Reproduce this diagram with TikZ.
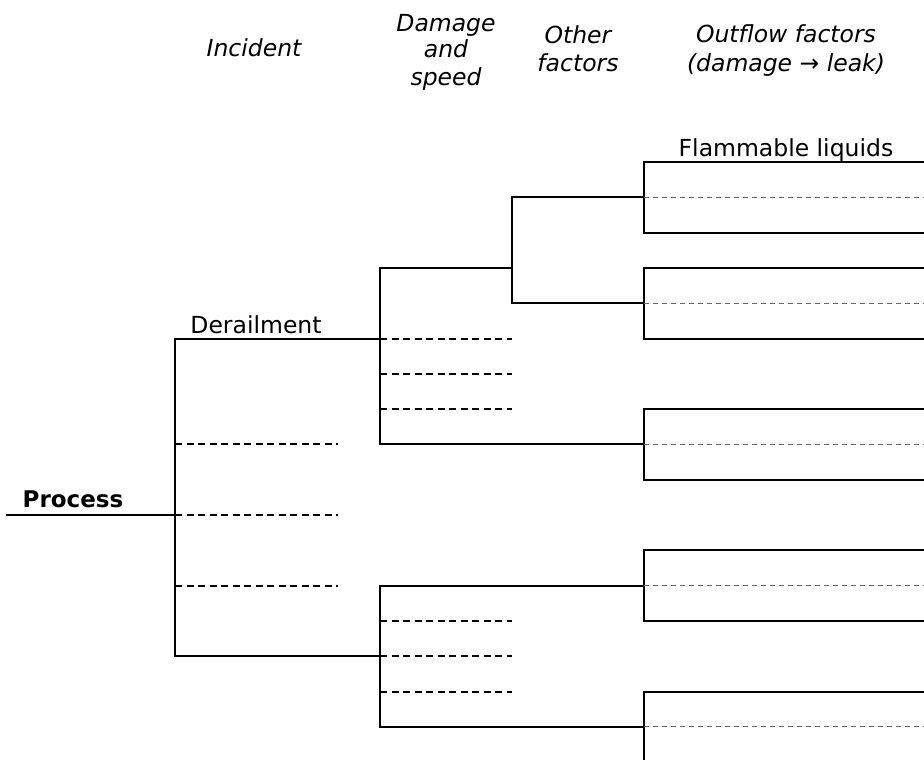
\documentclass[tikz,border=0pt]{standalone}
\usepackage{fontspec}
\setmainfont{DejaVu Sans}
\begin{document}
\begin{tikzpicture}[x=1pt,y=-1pt,
  branch/.style={line width=2pt,line join=miter},
  treedash/.style={line width=2pt,dash pattern=on 7pt off 4.5pt},
  boxdash/.style={line width=1pt,gray!80!black,dash pattern=on 5pt off 4pt},
  lbl/.style={inner sep=0pt,anchor=base,font=\fontsize{23.5}{28}\selectfont},
  hdr/.style={inner sep=0pt,anchor=base,font=\fontsize{23.5}{28}\selectfont\itshape}]
\useasboundingbox (0,0) rectangle (924,760);

% headers
\node[hdr] (h1) at (254,57) {Incident};
\node[hdr] (h2a) at (446,32) {Damage};
\node[hdr] (h2b) at (446,58) {and};
\node[hdr] (h2c) at (446,85) {speed};
\node[hdr] (h3a) at (578,44) {Other};
\node[hdr] (h3b) at (578,71) {factors};
\node[hdr] (h4a) at (786,43) {Outflow factors};
\node[hdr] (h4b) at (786,72) {(damage → leak)};

% labels
\node[lbl] (derail) at (256,333) {Derailment};
\node[lbl] (flam) at (786,156) {Flammable liquids};
\node[lbl,font=\fontsize{23}{28}\selectfont\bfseries] (proc) at (73,507) {Process};

% coordinates
\coordinate (pS) at (6,515);
\coordinate (pE) at (175,515);
\coordinate (dT) at (380,338.5);
\coordinate (iB) at (175,656.2);
\coordinate (lB) at (380,656.2);
\coordinate (uT) at (512,267.9);
\coordinate (uB) at (380,444.4);
\coordinate (b3m) at (644,444.4);
\coordinate (oT) at (644,197.3);
\coordinate (oB) at (512,303.2);
\coordinate (b2m) at (644,303.2);
\coordinate (b4m) at (644,585.6);
\coordinate (lV) at (380,726.8);
\coordinate (b5m) at (644,726.8);

% tree
\draw[branch] (pS) -- (pE);
\draw[branch] (dT) -| (iB) -- (lB);
\draw[branch] (uT) -| (uB) -- (b3m);
\draw[branch] (oT) -| (oB) -- (b2m);
\draw[branch] (b4m) -| (lV) -- (b5m);

% incident dashed
\draw[treedash] (175,444.4) -- (338,444.4);
\draw[treedash] (175,515) -- (338,515);
\draw[treedash] (175,585.6) -- (338,585.6);
% damage dashed (upper)
\draw[treedash] (380,338.5) -- (512,338.5);
\draw[treedash] (380,373.8) -- (512,373.8);
\draw[treedash] (380,409.1) -- (512,409.1);
% damage dashed (lower)
\draw[treedash] (380,620.9) -- (512,620.9);
\draw[treedash] (380,656.2) -- (512,656.2);
\draw[treedash] (380,691.5) -- (512,691.5);

% boxes
\draw[branch] (924,162) -| (644,232.6) -- (924,232.6);
\draw[branch] (924,267.9) -| (644,338.5) -- (924,338.5);
\draw[branch] (924,409.1) -| (644,479.7) -- (924,479.7);
\draw[branch] (924,550.3) -| (644,620.9) -- (924,620.9);
\draw[branch] (924,691.5) -| (644,762);

% box midlines
\draw[boxdash] (oT) -- (924,197.3);
\draw[boxdash] (b2m) -- (924,303.2);
\draw[boxdash] (b3m) -- (924,444.4);
\draw[boxdash] (b4m) -- (924,585.6);
\draw[boxdash] (b5m) -- (924,726.8);
\end{tikzpicture}
\end{document}
